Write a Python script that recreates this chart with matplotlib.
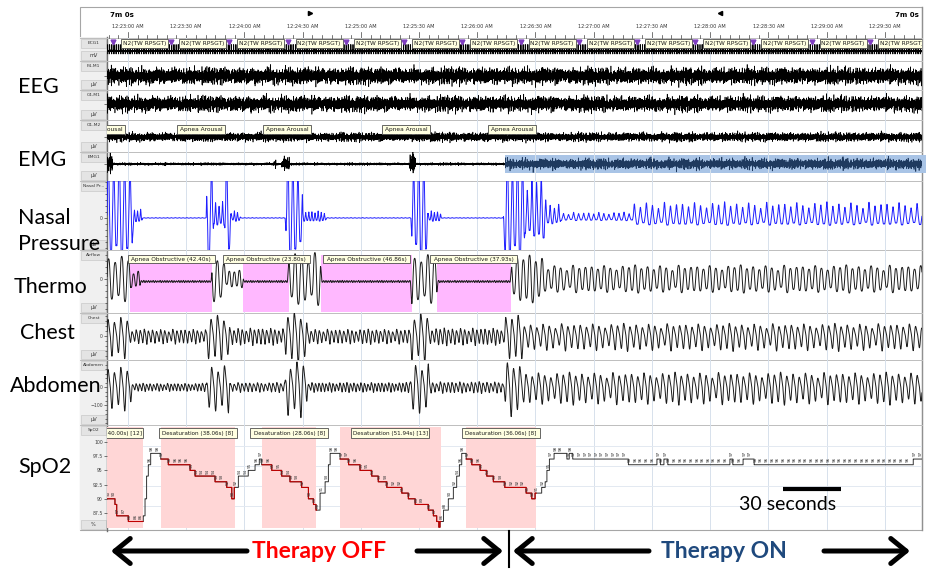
import numpy as np
import matplotlib.pyplot as plt
from matplotlib.patches import Rectangle
from matplotlib.transforms import blended_transform_factory

plt.rcParams['font.family'] = ['Lato', 'DejaVu Sans']

W, H = 930, 587
PLOT_L, PLOT_R = 107, 922
SPAN = 420.0          # one 7 minute page, seconds
FS = 20.0             # drawing rate for the traces, samples per second
UI = 'DejaVu Sans'    # small viewer text

# ---- page clock ----
clock_labels = ['12:23:00 AM', '12:23:30 AM', '12:24:00 AM', '12:24:30 AM',
                '12:25:00 AM', '12:25:30 AM', '12:26:00 AM', '12:26:30 AM',
                '12:27:00 AM', '12:27:30 AM', '12:28:00 AM', '12:28:30 AM',
                '12:29:00 AM', '12:29:30 AM']
clock_first = 10.8    # seconds from page start to 12:23:00
epoch_first = 3.1     # start of first scored epoch on the page
stage_text = 'N2(TW RPSGT)'

# ---- scored events (seconds from page start) ----
apnea_start = [11.9, 70.1, 110.3, 170.1]
apnea_dur = [42.40, 23.80, 46.86, 37.93]
desat_start = [-21.5, 27.8, 79.9, 120.1, 185.1]
desat_dur = [40.00, 38.06, 28.06, 51.94, 36.06]
desat_drop = [12, 8, 8, 13, 8]
arousal_mid = [-3.0, 48.5, 92.9, 154.1, 208.8]
therapy_on = 207.2

# ---- SpO2 (%), step changes (time, value) ----
spo2_steps = [
    (0, 90), (4.1, 89), (5.0, 87), (11.0, 86), (18.7, 87), (19.6, 90), (20.4, 94),
    (21.3, 96), (22.5, 98), (27.7, 97), (31.6, 96), (42.8, 95), (45.4, 94),
    (55.7, 93), (61.7, 92), (64.3, 90), (65.6, 92), (67.7, 94), (72.8, 95),
    (76.3, 96), (78.5, 97), (79.7, 96), (84.9, 95), (90.0, 94), (94.3, 93),
    (100.3, 92), (103.8, 90), (106.4, 89), (107.7, 88), (109.8, 91), (112.4, 93),
    (114.1, 96), (115.0, 98), (120.1, 97), (124.5, 96), (130.4, 95), (136.4, 94),
    (139.8, 93), (144.2, 92), (151.9, 91), (155.3, 90), (158.8, 89), (165.6, 88),
    (168.2, 87), (169.9, 86), (171.0, 85), (171.6, 86), (173.4, 88), (175.9, 90),
    (178.5, 92), (180.2, 94), (181.6, 96), (182.8, 98), (185.1, 97), (188.0, 96),
    (192.3, 95), (195.7, 94), (199.1, 93), (205.0, 92), (216.0, 91), (218.9, 90),
    (220.6, 91), (224.0, 92), (225.8, 93), (226.7, 95), (228.0, 97), (230.4, 98),
    (237.0, 97), (238.2, 98), (240.0, 97), (268.7, 96), (283.4, 97), (285.2, 96),
    (287.0, 97), (289.0, 96), (321.0, 97), (322.5, 96), (327.8, 97), (333.5, 96),
    (415.5, 97),
]

# ---- respiratory channels: segment end times, amplitudes, breath periods ----
nasal_end = [13.4, 18.0, 51.5, 54.6, 61.0, 63.5, 68.5, 92.2, 100.5, 113.0,
             157.0, 165.0, 172.0, 204.6, 215.0, 226.0, 233.5, 271.0, SPAN]
nasal_amp = [60, 6, 0.3, 60, 12, 60, 5, 0.3, 60, 5,
             0.3, 60, 5, 0.3, 60, 30, 10, 4, 11]
nasal_per = [2.8, 1.6, 2.0, 2.8, 1.8, 2.8, 1.6, 2.0, 2.6, 1.6,
             2.0, 2.6, 1.6, 2.0, 2.6, 2.4, 2.2, 2.6, 3.1]

thermo_end = [11.9, 17.0, 54.1, 61.0, 70.1, 93.3, 110.3, 156.7, 170.1, 208.2, 225.0, SPAN]
thermo_amp = [22, 9, 1.0, 22, 8, 1.0, 25, 1.0, 25, 1.0, 22, 13]
thermo_off = [0, -1, -2.5, 0, 0, -2.5, 0, -2.5, 0, -2.5, 0, 0]
thermo_per = [3.4, 2.4, 1.2, 3.4, 2.6, 1.2, 3.4, 1.2, 3.4, 1.2, 3.2, 3.2]

chest_end = [11.5, 51.5, 63.0, 92.0, 103.0, 156.5, 166.0, 205.0, 214.0, SPAN]
chest_amp = [17, 6, 18, 7, 20, 6, 20, 7, 18, 11]
chest_per = [3.3, 2.1, 3.3, 2.1, 3.3, 2.1, 3.3, 2.1, 3.2, 3.2]

abdo_end = [12.5, 51.5, 63.0, 92.0, 103.0, 156.5, 166.0, 205.0, 214.0, SPAN]
abdo_amp = [100, 18, 110, 22, 130, 22, 120, 26, 120, 72]       # uV
abdo_per = [3.3, 1.8, 3.3, 2.0, 3.3, 1.8, 3.3, 2.0, 3.2, 3.2]

breath_var = [1.0, 0.82, 1.12, 0.9, 0.74, 1.06, 0.95, 1.18, 0.86, 1.02, 0.78,
              1.1, 0.92, 0.7, 1.15, 0.88, 0.97]

# ---- EEG / EMG / ECG ----
noise_a = [0.3, -0.8, 0.5, 0.9, -0.2, -0.6, 0.7, -0.9, 0.1, 0.6, -0.4, 0.8, -0.7, 0.2,
           -0.1, 0.9, -0.5, 0.4, -0.9, 0.6, 0.0, -0.3, 0.7, -0.6, 0.5, -0.8, 0.3, 0.8, -0.4]
noise_b = [0.5, -0.2, -0.9, 0.7, 0.3, -0.6, 0.9, -0.4, 0.1, -0.7, 0.6, 0.2, -0.5, 0.8,
           -0.3, 0.4, -0.8]
noise_c = [1.0, 0.6, 1.4, 0.8, 0.5, 1.2, 0.7, 1.6, 0.9, 0.6, 1.1, 0.8, 1.3]
eeg_amp = {'F4-M1': 8.0, 'C4-M1': 7.5, 'O1-M2': 4.3}
emg_burst_t = [1.5, 30.0, 86.6, 92.0, 157.5]
emg_burst_w = [3.0, 1.0, 1.0, 4.0, 3.0]
emg_burst_amp = [8, 3, 5, 6, 10]
emg_cpap_amp = 5.0
ecg_rr = [0.92, 0.88, 0.95, 0.90, 0.86, 0.93, 0.97, 0.89]

t = np.arange(0, SPAN, 1 / FS)
n = np.arange(t.size)


def texture(shift):
    a, b, c = np.asarray(noise_a), np.asarray(noise_b), np.asarray(noise_c)
    k = n + shift
    return (0.6 * a[k % a.size] + 0.4 * b[(3 * k) % b.size]) * c[(k // 6) % c.size]


def seg_values(ends, vals, smooth=0.8):
    idx = np.minimum(np.searchsorted(ends, t, side='right'), len(ends) - 1)
    v = np.asarray(vals, float)[idx]
    w = max(int(FS * smooth), 1)
    v = np.convolve(np.pad(v, w, mode='edge'), np.ones(w) / w, mode='same')[w:-w]
    return v


def breathing(ends, amps, periods, shape):
    amp = seg_values(ends, amps)
    per = seg_values(ends, periods)
    phase = np.cumsum(2 * np.pi / per / FS)
    cyc = (phase // (2 * np.pi)).astype(int)
    mult = np.asarray(breath_var)[cyc % len(breath_var)]
    return amp * mult * shape(phase)


def spiky(p):
    s = np.sin(p)
    return np.where(s > 0, 1.4 * np.abs(s) ** 3, -0.7 * np.abs(s) ** 1.5) + 0.15 * np.sin(3 * p)


def smooth_wave(p):
    return np.sin(p) + 0.08 * np.sin(3 * p)


def effort(p):
    return np.sin(p) + 0.25 * np.sin(2 * p + 0.6)


fig = plt.figure(figsize=(W / 100, H / 100), dpi=100)
bg = fig.add_axes([0, 0, 1, 1])
bg.set_xlim(0, W)
bg.set_ylim(H, 0)
bg.axis('off')

# viewer frame
bg.add_patch(Rectangle((80, 7), PLOT_R - 80, 523, fc='white', ec='#A6A6A6', lw=0.8))
bg.add_patch(Rectangle((80, 37), PLOT_L - 80, 493, fc='#F0F0F0', ec='none'))
bg.plot([PLOT_L, PLOT_L], [37, 531], color='#707070', lw=1.0)
bg.plot([PLOT_R, PLOT_R], [7, 530], color='#909090', lw=1.0)

rows = [(38, 61, 'ECG1', 'mV'), (61, 90, 'F4-M1', 'µV'), (90, 120, 'C4-M1', 'µV'),
        (120, 152, 'O1-M2', 'µV'), (152, 181, 'EMG1', 'µV'), (181, 250, 'Nasal Pr...', 'µV'),
        (250, 313, 'Airflow', 'µV'), (313, 360, 'Chest', 'µV'), (360, 425, 'Abdomen', 'µV'),
        (425, 530, 'SpO2', '%')]
for top, bot, name, unit in rows:
    bg.plot([80, PLOT_R], [top, top], color='#BDBDBD', lw=0.7)
    bg.add_patch(Rectangle((81, top + 1), 25, 8.5, fc='#E4E4E4', ec='#C8C8C8', lw=0.5))
    bg.text(93.5, top + 5.3, name, fontsize=3.2, ha='center', va='center', family=UI, color='#333333')
    bg.add_patch(Rectangle((81, bot - 10), 25, 9, fc='#E4E4E4', ec='#C8C8C8', lw=0.5))
    bg.text(93.5, bot - 5.4, unit, fontsize=3.6, ha='center', va='center', family=UI, color='#333333')

# highlight on the EMG channel once the pressure is applied
px_s = (PLOT_R - PLOT_L) / SPAN
hl0 = PLOT_L + (therapy_on - 2.0) * px_s
bg.add_patch(Rectangle((hl0, 155), 926 - hl0, 18, fc='#A9C4E6', ec='none', zorder=3))

# page header and clock
bg.text(110, 15, '7m 0s', fontsize=5, fontweight='bold', family=UI, va='center')
bg.text(919, 15, '7m 0s', fontsize=5, fontweight='bold', family=UI, va='center', ha='right')
bg.plot([310], [13], marker='>', ms=3, color='black')
bg.plot([720], [13], marker='<', ms=3, color='black')
for k, lab in enumerate(clock_labels):
    x = PLOT_L + (clock_first + 30 * k) * px_s
    bg.text(x, 27, lab, fontsize=3.6, ha='center', va='center', family=UI, color='#333333')
for s in np.arange(clock_first - 10, SPAN, 5):
    if s < 0:
        continue
    x = PLOT_L + s * px_s
    major = abs((s - clock_first) % 30) < 1e-6
    bg.plot([x, x], [32 if major else 35, 38], color='#404040', lw=0.5)


def row_axes(top, bot):
    ax = fig.add_axes([PLOT_L / W, 1 - bot / H, (PLOT_R - PLOT_L) / W, (bot - top) / H],
                      facecolor='none', zorder=4)
    ax.set_xlim(0, SPAN)
    for sp in ax.spines.values():
        sp.set_visible(False)
    ax.set_xticks([])
    ax.tick_params(axis='y', which='both', length=2, width=0.5, pad=1, labelsize=3.3,
                   colors='#404040', labelfontfamily=UI)
    ax.tick_params(axis='y', which='minor', length=1.2)
    for k in range(len(clock_labels)):
        ax.axvline(clock_first + 30 * k, color='#D7E1EC', lw=0.7, zorder=0)
    return ax


def tag(ax, mid, width_s, y0, y1, text, fs):
    tr = blended_transform_factory(ax.transData, ax.transAxes)
    ax.add_patch(Rectangle((mid - width_s / 2, y0), width_s, y1 - y0, transform=tr,
                           fc='#FFFFE1', ec='#4D4D4D', lw=0.6, zorder=6, clip_on=True))
    ax.text(mid, (y0 + y1) / 2, text, transform=tr, fontsize=fs, ha='center', va='center',
            family=UI, zorder=7, clip_on=True, color='#1A1A1A')


def frac(top, bot, y):
    return (bot - y) / (bot - top)


# ECG with stage markers
ax = row_axes(38, 61)
ax.set_ylim(-10, 13)
ax.set_yticks([])
ecg = texture(3) * 1.0
beat = 0.4
i = 0
while beat < SPAN:
    j = int(beat * FS)
    ecg[j] = 6.5
    if j + 1 < ecg.size:
        ecg[j + 1] = -3
    beat += ecg_rr[i % len(ecg_rr)]
    i += 1
ax.plot(t, ecg, color='black', lw=0.5)
for k in range(len(clock_labels) + 1):
    e0 = epoch_first + 30 * k
    ax.plot([e0], [9], marker='v', ms=3.5, color='#7F3FBF', zorder=7, clip_on=True)
    tag(ax, e0 + 31.5 / px_s, 47 / px_s, frac(38, 61, 48), frac(38, 61, 39), stage_text, 4.2)

# EEG
for (top, bot), name, shift in zip([(61, 90), (90, 120), (120, 152)], ['F4-M1', 'C4-M1', 'O1-M2'], [0, 41, 97]):
    ax = row_axes(top, bot)
    mid = {'F4-M1': 76, 'C4-M1': 104, 'O1-M2': 137}[name]
    ax.set_ylim(-(bot - mid), mid - top)
    ax.set_yticks([0])
    ax.set_yticklabels([''])
    ax.plot(t, texture(shift) * eeg_amp[name], color='black', lw=0.45)
    if name == 'O1-M2':
        for m in arousal_mid:
            tag(ax, m, 48 / px_s, frac(top, bot, 134), frac(top, bot, 125), 'Apnea Arousal', 4.2)

# EMG
ax = row_axes(152, 181)
ax.set_ylim(-17, 12)
ax.set_yticks([0])
ax.set_yticklabels([''])
env = np.full(t.size, 1.2)
for c, w, a in zip(emg_burst_t, emg_burst_w, emg_burst_amp):
    env = np.where(np.abs(t - c) < w / 2, a, env)
emg = texture(11) * env
pre = t < therapy_on - 2.0
ax.plot(t[pre], emg[pre], color='black', lw=0.5)
cpap = breathing([SPAN], [1.0], [2.9], smooth_wave)
band = texture(23) * emg_cpap_amp * (0.7 + 0.45 * np.abs(cpap))
ax.plot(t[~pre], band[~pre], color='#1F3A5F', lw=0.5, zorder=5)

# nasal pressure
ax = row_axes(181, 250)
ax.set_ylim(-32, 37)
ax.set_yticks([0])
ax.set_yticks(np.arange(-30, 37, 6), minor=True)
ax.plot(t, breathing(nasal_end, nasal_amp, nasal_per, spiky), color='#1F1FFF', lw=0.7)

# thermistor airflow with obstructive apneas
ax = row_axes(250, 313)
ax.set_ylim(-34, 29)
ax.set_yticks([0])
ax.set_yticks(np.arange(-30, 29, 6), minor=True)
for s, d in zip(apnea_start, apnea_dur):
    ax.axvspan(s, s + d, ymin=frac(250, 313, 312), ymax=frac(250, 313, 255), color='#FFB8FF', lw=0, zorder=1)
    tag(ax, s + d / 2, 87 / px_s, frac(250, 313, 263), frac(250, 313, 255),
        'Apnea Obstructive ({:.2f}s)'.format(d), 4.15)
thermo = breathing(thermo_end, thermo_amp, thermo_per, smooth_wave) + seg_values(thermo_end, thermo_off)
ax.plot(t, thermo, color='#1A1A1A', lw=0.7, zorder=3)

# chest effort
ax = row_axes(313, 360)
ax.set_ylim(-24, 23)
ax.set_yticks([0])
ax.set_yticks(np.arange(-20, 23, 5), minor=True)
ax.plot(t, breathing(chest_end, chest_amp, chest_per, effort), color='#1A1A1A', lw=0.7)

# abdominal effort
ax = row_axes(360, 425)
ax.set_ylim(-211, 150)
ax.set_yticks([0, -100])
ax.set_yticks(np.arange(-200, 150, 25), minor=True)
ax.plot(t, breathing(abdo_end, abdo_amp, abdo_per, effort), color='#1A1A1A', lw=0.7)

# SpO2 with desaturations
ax = row_axes(425, 530)
ax.set_ylim(84.5, 103.0)
ax.set_yticks([87.5, 90, 92.5, 95, 97.5, 100])
ax.set_yticklabels(['87.5', '90', '92.5', '95', '97.5', '100'])
for g in [99.3, 95.8, 92.3, 88.7]:
    ax.axhline(g, color='#E3E9F1', lw=0.7, zorder=0)
for s, d, drop in zip(desat_start, desat_dur, desat_drop):
    ax.axvspan(s, s + d, ymin=0.02, ymax=0.98, color='#FFD6D6', lw=0, zorder=1)
    tag(ax, s + d / 2, 78 / px_s, frac(425, 530, 438), frac(425, 530, 428),
        'Desaturation ({:.2f}s) [{}]'.format(d, drop), 4.05)
st = np.array([p[0] for p in spo2_steps])
sv = np.array([p[1] for p in spo2_steps])
ts = np.arange(0, SPAN, 0.05)
vs = sv[np.searchsorted(st, ts, side='right') - 1].astype(float)
in_desat = np.zeros(ts.size, bool)
for s, d in zip(desat_start, desat_dur):
    in_desat |= (ts >= s) & (ts <= s + d)
ax.plot(ts, vs, drawstyle='steps-post', color='#333333', lw=0.7, zorder=3)
ax.plot(ts, np.where(in_desat, vs, np.nan), drawstyle='steps-post', color='#C00000', lw=0.8, zorder=4)
for i, (s, v) in enumerate(spo2_steps):
    end = spo2_steps[i + 1][0] if i + 1 < len(spo2_steps) else SPAN
    k = s + 0.7
    while k < end - 0.4:
        ax.text(k, v + 0.45, str(v), rotation=90, fontsize=3.0, ha='center', va='bottom',
                family=UI, color='#333333', zorder=5, clip_on=True)
        k += 2.9
tr = blended_transform_factory(ax.transData, ax.transAxes)
bar0 = (783 - PLOT_L) / px_s
ax.plot([bar0, bar0 + 30], [frac(425, 530, 489)] * 2, transform=tr, color='black', lw=3,
        solid_capstyle='butt', zorder=6)
ax.text(bar0 - 22.5, frac(425, 530, 505), '30 seconds', transform=tr, fontsize=14,
        va='center', ha='left', zorder=6)

# channel names on the left
for txt, x, y in [('EEG', 18, 87), ('EMG', 18, 160), ('Nasal', 18, 218), ('Pressure', 18, 244),
                  ('Thermo', 14, 287), ('Chest', 20, 333), ('Abdomen', 10, 386), ('SpO2', 18, 467)]:
    bg.text(x, y, txt, fontsize=15.5, va='center', ha='left', zorder=10)

# therapy annotation below the page
arrow = dict(arrowstyle='->,head_length=0.55,head_width=0.45', lw=3.6, color='black',
             mutation_scale=20, shrinkA=0, shrinkB=0)
bg.annotate('', xy=(111, 551), xytext=(247, 551), arrowprops=arrow)
bg.annotate('', xy=(503, 551), xytext=(417, 551), arrowprops=arrow)
bg.annotate('', xy=(513, 551), xytext=(649, 551), arrowprops=arrow)
bg.annotate('', xy=(910, 551), xytext=(824, 551), arrowprops=arrow)
bg.plot([509, 509], [531, 567], color='black', lw=1.5)
bg.text(319, 551, 'Therapy OFF', color='#FF0000', fontsize=16.5, fontweight='bold', ha='center', va='center')
bg.text(724, 551, 'Therapy ON', color='#1F497D', fontsize=16.5, fontweight='bold', ha='center', va='center')

fig.savefig('out.png', dpi=100)
